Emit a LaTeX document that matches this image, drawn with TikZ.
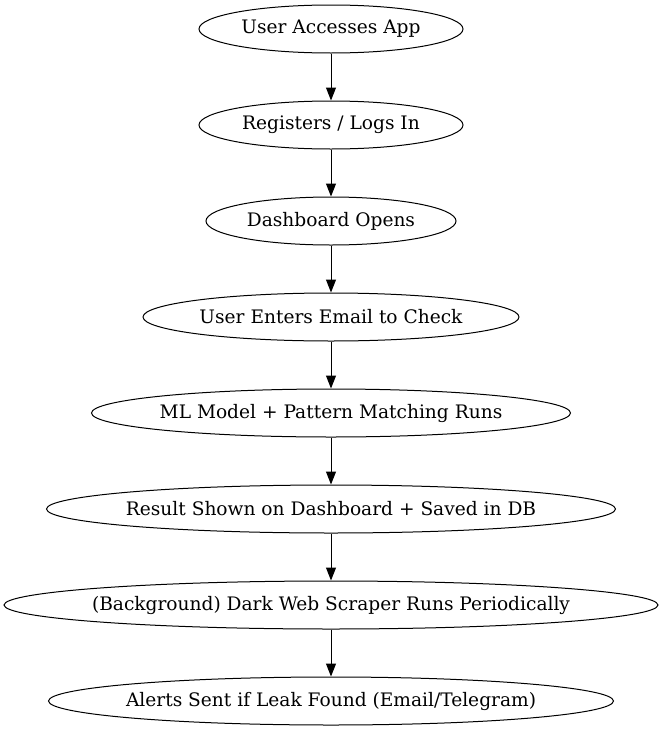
\documentclass[tikz,border=0pt]{standalone}
\usepackage{fontspec}
\setmainfont{DejaVu Serif}
\usepackage{tikz}
\usetikzlibrary{positioning,arrows.meta,shapes.geometric}

% keep the label from widening the ellipse
\newcommand{\steplabel}[1]{\makebox[0pt]{#1}}

\begin{document}
\begin{tikzpicture}[
  x=1pt, y=-1pt,
  stage/.style={draw, ellipse, line width=1pt, inner sep=0pt, minimum height=48pt, font=\fontsize{18.6}{22}\selectfont},
  arrow/.style={-{Triangle[length=13pt,width=10pt]}, line width=1pt},
]
\useasboundingbox (0,0) rectangle (662,731);

\node[stage, minimum width=264pt] (access) at (331,29) {\steplabel{User Accesses App}};
\node[stage, minimum width=264pt] (login) at (331,125) {\steplabel{Registers / Logs In}};
\node[stage, minimum width=250pt] (dash) at (331,221) {\steplabel{Dashboard Opens}};
\node[stage, minimum width=376pt] (email) at (331,317) {\steplabel{User Enters Email to Check}};
\node[stage, minimum width=479pt] (model) at (331,413) {\steplabel{ML Model + Pattern Matching Runs}};
\node[stage, minimum width=569pt] (result) at (331,509) {\steplabel{Result Shown on Dashboard + Saved in DB}};
\node[stage, minimum width=654pt] (scraper) at (331,605) {\steplabel{(Background) Dark Web Scraper Runs Periodically}};
\node[stage, minimum width=565pt] (alerts) at (331,701) {\steplabel{Alerts Sent if Leak Found (Email/Telegram)}};

\draw[arrow] (access) -- (login);
\draw[arrow] (login) -- (dash);
\draw[arrow] (dash) -- (email);
\draw[arrow] (email) -- (model);
\draw[arrow] (model) -- (result);
\draw[arrow] (result) -- (scraper);
\draw[arrow] (scraper) -- (alerts);

\end{tikzpicture}
\end{document}
